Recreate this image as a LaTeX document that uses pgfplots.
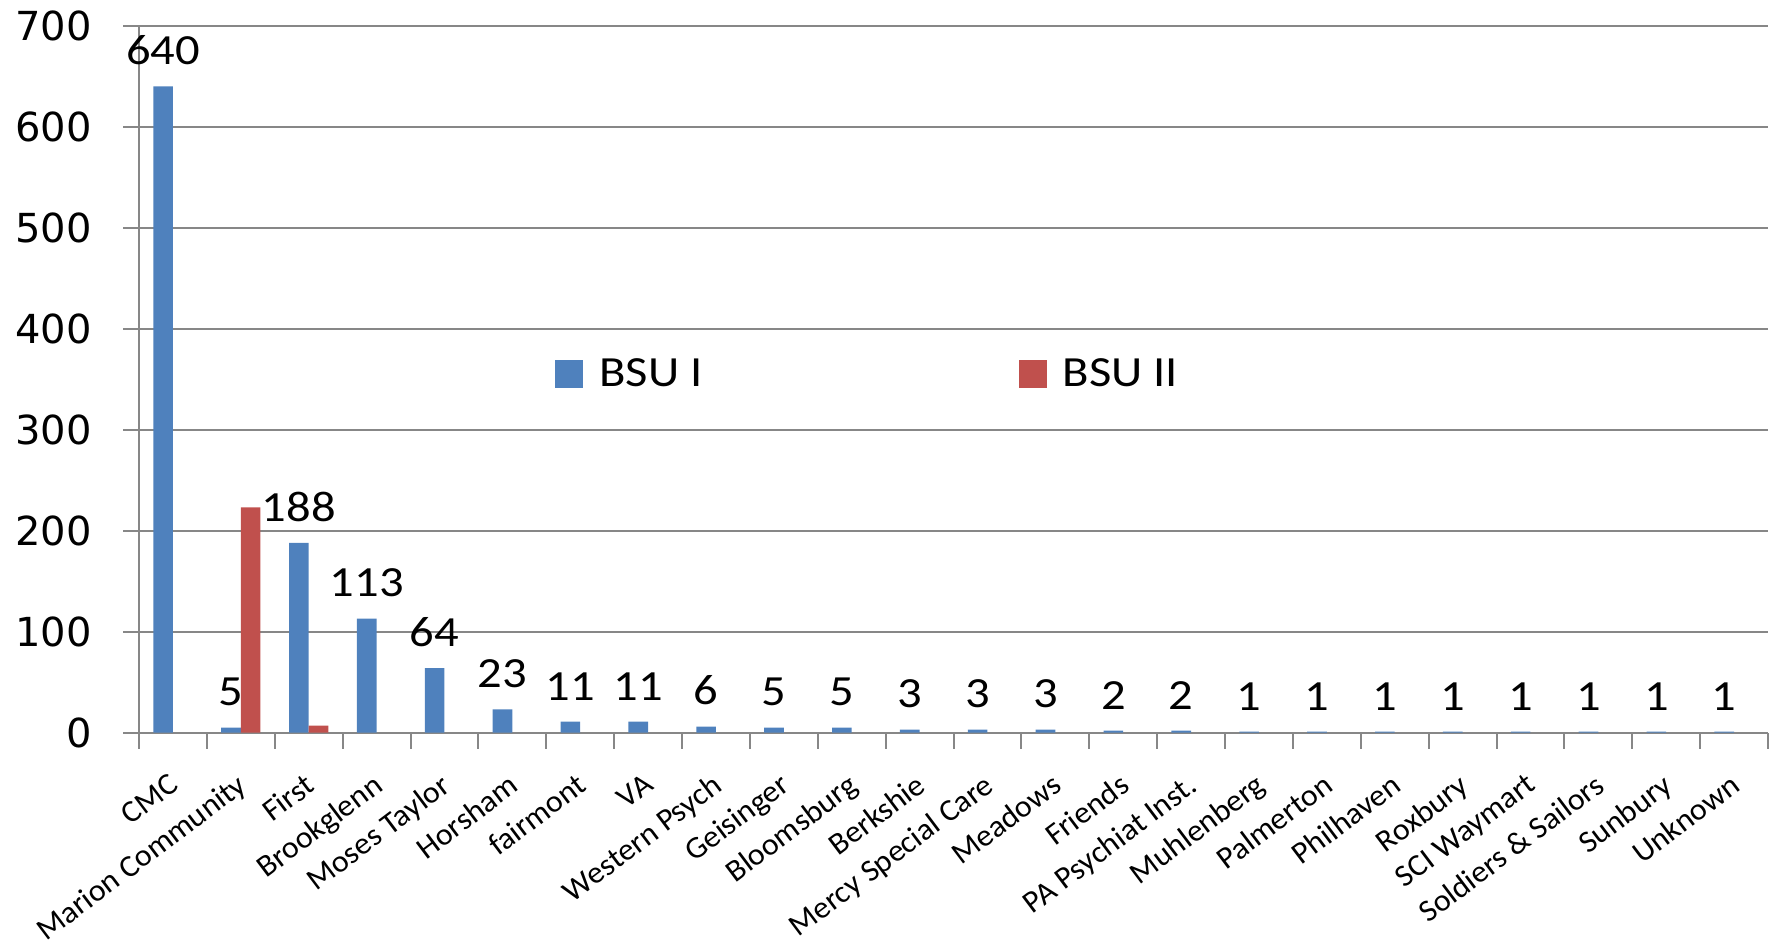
\documentclass[border=0pt]{standalone}
\usepackage{fontspec}
\usepackage{pgfplots}
\pgfplotsset{compat=1.18}
\setmainfont{Carlito}
\newfontfamily\labfont[FakeStretch=1.13]{Carlito}
\newfontfamily\catfont[FakeStretch=1.03]{Carlito}
\newfontfamily\tickfont{DejaVu Sans}
\definecolor{bsuone}{HTML}{4F81BD}
\definecolor{bsutwo}{HTML}{C0504D}
\definecolor{gridgray}{HTML}{878787}
\begin{document}
\begin{tikzpicture}
\path[use as bounding box] (0,0) rectangle (886.5pt,472pt);
\begin{axis}[
  at={(69.5pt,105.65pt)}, anchor=south west,
  scale only axis, width=814.5pt, height=353.5pt,
  xmin=-0.5, xmax=23.5, ymin=0, ymax=700,
  ybar=0pt, bar width=0.29,
  axis lines*=left,
  axis line style={draw=gridgray, line width=1pt},
  ytick={0,100,200,300,400,500,600,700},
  ymajorgrids, grid style={draw=gridgray, line width=1pt},
  tick align=outside,
  major tick length=8pt,
  tick style={draw=gridgray, line width=1pt},
  xtick={-0.5,0.5,1.5,2.5,3.5,4.5,5.5,6.5,7.5,8.5,9.5,10.5,11.5,12.5,13.5,14.5,15.5,16.5,17.5,18.5,19.5,20.5,21.5,22.5,23.5},
  x tick label as interval,
  xticklabels={CMC, Marion Community, First, Brookglenn, Moses Taylor, Horsham, fairmont, VA, Western Psych, Geisinger, Bloomsburg, Berkshie, Mercy Special Care, Meadows, Friends, PA Psychiat Inst., Muhlenberg, Palmerton, Philhaven, Roxbury, SCI Waymart, Soldiers \& Sailors, Sunbury, Unknown},
  /pgf/number format/assume math mode=true,
  yticklabel style={font=\tickfont\fontsize{20pt}{24pt}\selectfont, anchor=east, inner sep=0pt},
  yticklabel shift=15.5pt,
  xticklabel style={font=\catfont\fontsize{15.5pt}{18pt}\selectfont, xshift=-2.5pt, rotate=37, anchor=north east, inner sep=0pt},
  xticklabel shift=11.5pt,
  legend style={at={(0.2554,0.507)}, anchor=west, draw=none, fill=none,
    font=\labfont\fontsize{21.5pt}{26pt}\selectfont, inner sep=0pt,
    /tikz/every even column/.append style={column sep=158pt},
    /tikz/every odd column/.append style={column sep=8pt},
    nodes={inner sep=0pt}},
  legend columns=2,
  legend image code/.code={\fill[#1] (0pt,-7pt) rectangle (14pt,7pt);},
  nodes near coords style={font=\labfont\fontsize{21.5pt}{26pt}\selectfont, anchor=south, inner sep=0pt, yshift=10.5pt, text=black},
]
\addplot[fill=bsuone, draw=none, nodes near coords] coordinates {
 (0,640) (1,5) (2,188) (3,113) (4,64) (5,23) (6,11) (7,11) (8,6) (9,5) (10,5) (11,3)
 (12,3) (13,3) (14,2) (15,2) (16,1) (17,1) (18,1) (19,1) (20,1) (21,1) (22,1) (23,1)};
\addplot[fill=bsutwo, draw=none] coordinates {(1,223) (2,7)};
\legend{BSU I, BSU II}
\end{axis}
\end{tikzpicture}
\end{document}
